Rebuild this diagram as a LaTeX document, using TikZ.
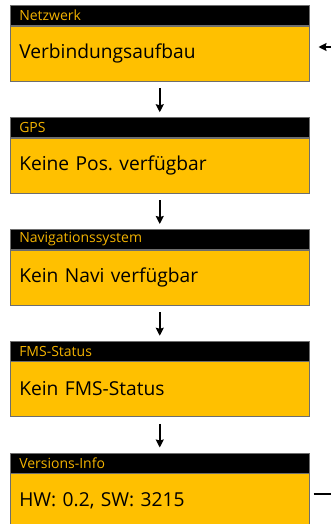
\documentclass[tikz,border=0pt]{standalone}
\usepackage{fontspec}
\setmainfont{Open Sans}
\usetikzlibrary{arrows.meta}
\definecolor{dispgold}{HTML}{FFC000}
\definecolor{dispamber}{HTML}{F2B200}
\definecolor{dispedge}{HTML}{6E6E6E}
\frenchspacing

\begin{document}
\begin{tikzpicture}[x=1pt,y=-1pt,
    head/.style={anchor=south west,fill=black,draw=dispedge,line width=0.5pt,
      text=dispamber,font=\fontsize{14}{16}\selectfont,
      minimum width=299pt,minimum height=20pt,text width=281pt,
      inner xsep=9pt,inner ysep=0pt,align=left},
    body/.style={anchor=north west,fill=dispgold,draw=dispedge,line width=0.5pt,
      font=\fontsize{19.2}{22}\selectfont,
      minimum width=299pt,minimum height=55pt,text width=281pt,
      inner xsep=9pt,inner ysep=0pt,align=left},
    flow/.style={-{Stealth[length=8pt,width=8pt,inset=1pt]},line width=1.6pt}]
  \useasboundingbox (0,0) rectangle (331,524);
  \clip (0,0) rectangle (331,524);
  % Netzwerk
  \node[body] (net) at (10,26) {Verbindungsaufbau};
  \node[head] (nethead) at (10,26) {Netzwerk};
  % GPS
  \node[body] (gps) at (10,137.75) {Keine Pos. verfügbar};
  \node[head] (gpshead) at (10,137.75) {GPS};
  % Navi
  \node[body] (nav) at (10,249.5) {Kein Navi verfügbar};
  \node[head] (navhead) at (10,249.5) {Navigationssystem};
  % FMS
  \node[body] (fms) at (10,361.25) {Kein FMS-Status};
  \node[head] (fmshead) at (10,361.25) {FMS-Status};
  % Version
  \node[body] (ver) at (10,473) {HW: 0.2, SW: 3215};
  \node[head] (verhead) at (10,473) {Versions-Info};
  % arrows
  \draw[flow,shorten <=7pt,shorten >=5pt] (net) -- (gpshead);
  \draw[flow,shorten <=7pt,shorten >=5pt] (gps) -- (navhead);
  \draw[flow,shorten <=7pt,shorten >=5pt] (nav) -- (fmshead);
  \draw[flow,shorten <=7pt,shorten >=5pt] (fms) -- (verhead);
  \coordinate (back) at (331,47);
  \coordinate (away) at (331,494);
  \draw[flow,shorten >=9pt] (back) -- (back -| net.east);
  \draw[line width=1.6pt,shorten <=4pt] (away -| ver.east) -- (away);
\end{tikzpicture}
\end{document}
